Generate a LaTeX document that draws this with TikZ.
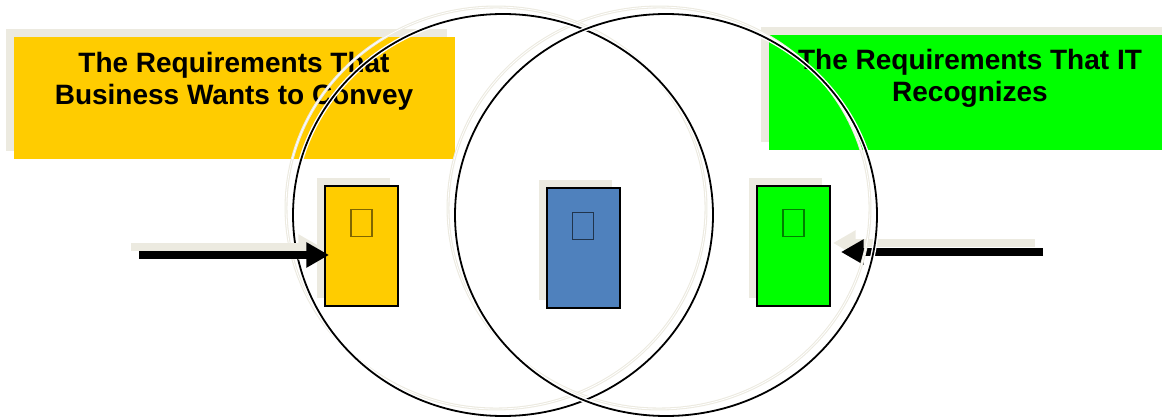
\documentclass[tikz,border=0pt]{standalone}
\usepackage{fontspec}
\setmainfont{Liberation Sans}
\usetikzlibrary{arrows.meta, shapes.geometric, shadows, positioning}
\definecolor{bizyellow}{HTML}{FFCC00}
\definecolor{itgreen}{HTML}{00FF00}
\definecolor{sharedblue}{HTML}{4F81BD}
\definecolor{shadebeige}{HTML}{ECEAE0}

\begin{document}
\begin{tikzpicture}[x=0.75pt, y=-0.75pt,
        banner/.style={rectangle, inner sep=0pt, copy shadow={shadow xshift=-6pt, shadow yshift=6pt, fill=shadebeige, draw=none}},
        bannertext/.style={font=\fontsize{21}{24}\selectfont\bfseries, align=center, inner sep=0pt},
        docbox/.style={rectangle, draw=black, line width=1.5pt, minimum width=54.75pt, minimum height=90pt, inner sep=0pt, copy shadow={shadow xshift=-6pt, shadow yshift=6pt, fill=shadebeige, draw=none}},
        glyphbox/.style={rectangle, line width=1pt, minimum width=15.75pt, minimum height=20.25pt, inner sep=0pt},
        ring/.style={draw=black, line width=1.35pt, preaction={draw=white, line width=3.4pt}},
        ringshade/.style={draw=shadebeige, line width=0.8pt, double=white, double distance=0.6pt},
        arrowshaft/.style={line width=6pt, -{Triangle[length=17pt, width=18pt]}}
    ]
        \useasboundingbox (0,0) rectangle (1162,417);

        % the two banners
        \node [banner, fill=bizyellow, minimum width=330.75pt, minimum height=91.5pt] (bizbanner) at (234.5,98) {};
        \node [banner, fill=itgreen, minimum width=301.5pt, minimum height=86.25pt] (itbanner) at (970,92.5) {};
        \node [bannertext, anchor=base] (biztext) at (234,105) {The Requirements That\\Business Wants to Convey};
        \node [bannertext, anchor=base] (ittext) at (970,102) {The Requirements That IT\\Recognizes};

        % IT side arrow, cut by the rings
        \coordinate (itsrc) at (1043,252);
        \coordinate (ittip) at (841,252);
        \draw [arrowshaft, shadebeige] ([shift={(-8,-9)}]itsrc) -- ([shift={(-8,-9)}]ittip);
        \draw [arrowshaft, black] (itsrc) -- (ittip);

        % the two rings with their shadows
        \path [ringshade] (496,208) ellipse [x radius=210, y radius=201];
        \path [ringshade] (659,208) ellipse [x radius=211, y radius=201];
        \path [ring] (503,215) ellipse [x radius=210, y radius=201];
        \path [ring] (666,215) ellipse [x radius=211, y radius=201];

        % documents
        \node [docbox, fill=bizyellow] (bizdoc) at (361.5,246) {};
        \node [docbox, fill=sharedblue] (shareddoc) at (583,248) {};
        \node [docbox, fill=itgreen] (itdoc) at (793.5,246) {};
        \node [glyphbox, draw=bizyellow!50!black, below=18pt of bizdoc.north] (bizglyph) {};
        \node [glyphbox, draw=sharedblue!40!black, below=18.75pt of shareddoc.north] (sharedglyph) {};
        \node [glyphbox, draw=itgreen!50!black, below=18pt of itdoc.north] (itglyph) {};

        % business side arrow
        \coordinate (bizsrc) at (139,255);
        \path (bizsrc -| bizdoc.west) ++(5,0) coordinate (biztip);
        \draw [arrowshaft, shadebeige] ([shift={(-8,-8)}]bizsrc) -- ([shift={(-8,-8)}]biztip);
        \draw [arrowshaft, black] (bizsrc) -- (biztip);
\end{tikzpicture}
\end{document}
